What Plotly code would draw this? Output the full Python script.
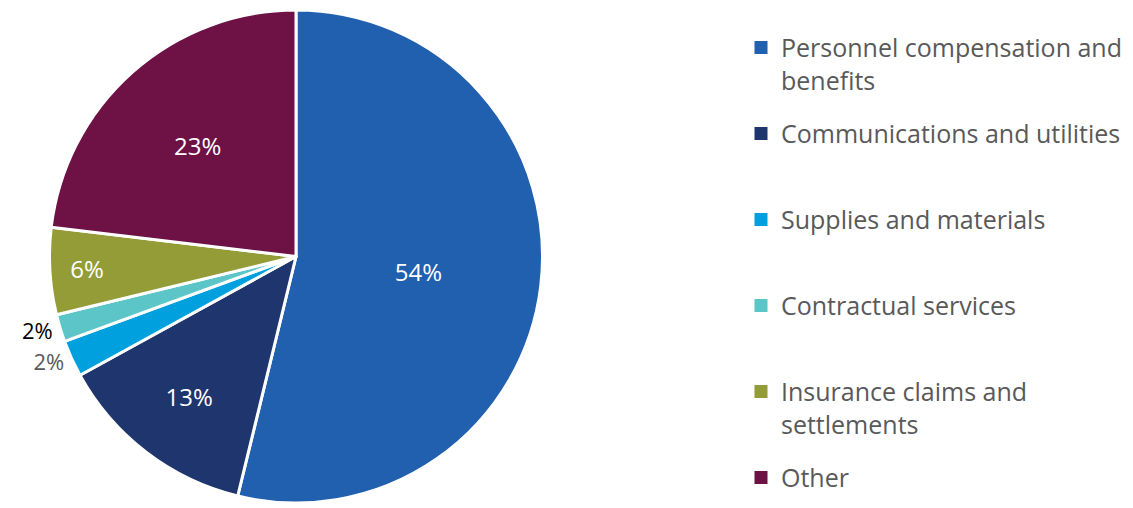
import plotly.graph_objects as go

categories = [
    "Personnel compensation and benefits",
    "Communications and utilities",
    "Supplies and materials",
    "Contractual services",
    "Insurance claims and settlements",
    "Other",
]
# legend text as wrapped in the reference (two lines per entry)
legend_labels = [
    "Personnel compensation and<br>benefits",
    "Communications and utilities<br> ",
    "Supplies and materials<br> ",
    "Contractual services<br> ",
    "Insurance claims and<br>settlements",
    "Other",
]
values = [53.8, 13.2, 2.4, 1.8, 5.7, 23.1]
colors = ["#215FAF", "#1F356E", "#00A0DF", "#5BC5C7", "#949C38", "#6E1246"]
text_positions = ["inside", "inside", "outside", "outside", "inside", "inside"]
text_colors = ["#FFFFFF", "#FFFFFF", "#595959", "#000000", "#FFFFFF", "#FFFFFF"]

W, H = 1133, 508
cx, r = 296, 249

fig = go.Figure()
fig.add_trace(go.Pie(
    labels=categories,
    values=values,
    sort=False,
    direction="clockwise",
    rotation=0,
    marker=dict(colors=colors, line=dict(color="#FFFFFF", width=3)),
    texttemplate="%{percent:.0%}",
    textposition=text_positions,
    insidetextorientation="horizontal",
    textfont=dict(family="Open Sans", size=24, color=text_colors),
    outsidetextfont=dict(family="Open Sans", size=22, color=text_colors),
    domain=dict(x=[(cx - r) / W, (cx + r) / W], y=[0, 1]),
    hoverinfo="label+percent",
    showlegend=False,
))

# legend entries (one per slice, same colours)
for name, lab, col in zip(categories, legend_labels, colors):
    fig.add_trace(go.Scatter(
        x=[None], y=[None], mode="markers",
        name=lab, legendgroup=name,
        marker=dict(symbol="square", size=13, color=col),
        hoverinfo="skip",
    ))

fig.update_layout(
    width=W, height=H,
    margin=dict(l=0, r=0, t=10, b=0),
    paper_bgcolor="#FFFFFF",
    plot_bgcolor="#FFFFFF",
    font=dict(family="Open Sans", color="#595959"),
    showlegend=True,
    xaxis=dict(visible=False),
    yaxis=dict(visible=False),
    legend=dict(
        x=741 / W, xanchor="left",
        y=0.97, yanchor="top",
        valign="top",
        tracegroupgap=18,
        font=dict(family="Open Sans", size=25, color="#595959"),
        bgcolor="rgba(0,0,0,0)",
    ),
)

fig.write_html("out.html")
